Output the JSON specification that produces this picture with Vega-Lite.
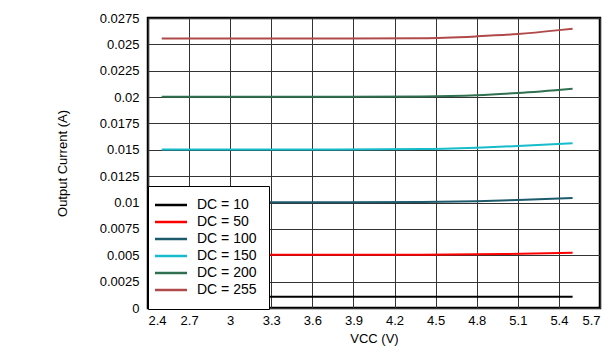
{
  "$schema": "https://vega.github.io/schema/vega-lite/v6.json",
  "width": 452,
  "height": 290,
  "autosize": {"type": "none"},
  "padding": {"left": 148, "top": 18, "right": 12, "bottom": 44},
  "background": "white",
  "config": {
    "font": "Liberation Sans",
    "view": {"stroke": "black", "strokeWidth": 2.5},
    "axis": {
      "labelFont": "Liberation Sans",
      "titleFont": "Liberation Sans",
      "labelFontSize": 13,
      "titleFontSize": 13,
      "titleFontWeight": "normal",
      "labelColor": "black",
      "titleColor": "black",
      "gridColor": "#333333",
      "gridOpacity": 1,
      "gridWidth": 1,
      "domain": false,
      "ticks": false
    }
  },
  "data": {
    "values": [
      {"v": 2.5, "i": 0.00107, "dc": "DC = 10"},
      {"v": 3.5, "i": 0.00107, "dc": "DC = 10"},
      {"v": 4.5, "i": 0.00107, "dc": "DC = 10"},
      {"v": 5.5, "i": 0.00107, "dc": "DC = 10"},
      {"v": 2.5, "i": 0.00505, "dc": "DC = 50"},
      {"v": 3.5, "i": 0.00505, "dc": "DC = 50"},
      {"v": 4.4, "i": 0.00506, "dc": "DC = 50"},
      {"v": 5.0, "i": 0.00512, "dc": "DC = 50"},
      {"v": 5.5, "i": 0.00524, "dc": "DC = 50"},
      {"v": 2.5, "i": 0.01003, "dc": "DC = 100"},
      {"v": 3.5, "i": 0.01003, "dc": "DC = 100"},
      {"v": 4.4, "i": 0.01006, "dc": "DC = 100"},
      {"v": 4.8, "i": 0.01013, "dc": "DC = 100"},
      {"v": 5.1, "i": 0.01024, "dc": "DC = 100"},
      {"v": 5.5, "i": 0.01043, "dc": "DC = 100"},
      {"v": 2.5, "i": 0.01503, "dc": "DC = 150"},
      {"v": 3.5, "i": 0.01503, "dc": "DC = 150"},
      {"v": 4.4, "i": 0.01507, "dc": "DC = 150"},
      {"v": 4.8, "i": 0.0152, "dc": "DC = 150"},
      {"v": 5.1, "i": 0.01536, "dc": "DC = 150"},
      {"v": 5.5, "i": 0.01562, "dc": "DC = 150"},
      {"v": 2.5, "i": 0.02003, "dc": "DC = 200"},
      {"v": 3.5, "i": 0.02003, "dc": "DC = 200"},
      {"v": 4.4, "i": 0.02006, "dc": "DC = 200"},
      {"v": 4.8, "i": 0.02017, "dc": "DC = 200"},
      {"v": 5.1, "i": 0.02039, "dc": "DC = 200"},
      {"v": 5.5, "i": 0.0208, "dc": "DC = 200"},
      {"v": 2.5, "i": 0.02556, "dc": "DC = 255"},
      {"v": 3.5, "i": 0.02556, "dc": "DC = 255"},
      {"v": 4.4, "i": 0.02559, "dc": "DC = 255"},
      {"v": 4.8, "i": 0.02576, "dc": "DC = 255"},
      {"v": 5.1, "i": 0.02598, "dc": "DC = 255"},
      {"v": 5.4, "i": 0.02635, "dc": "DC = 255"},
      {"v": 5.5, "i": 0.02649, "dc": "DC = 255"}
    ]
  },
  "mark": {"type": "line", "strokeWidth": 2, "interpolate": "monotone"},
  "encoding": {
    "x": {
      "field": "v",
      "type": "quantitative",
      "scale": {"domain": [2.4, 5.7], "nice": false, "zero": false},
      "axis": {
        "values": [2.4, 2.7, 3, 3.3, 3.6, 3.9, 4.2, 4.5, 4.8, 5.1, 5.4, 5.7],
        "format": ".1~f",
        "labelPadding": 6,
        "title": "VCC (V)",
        "titlePadding": 5
      }
    },
    "y": {
      "field": "i",
      "type": "quantitative",
      "scale": {"domain": [0, 0.0275], "nice": false},
      "axis": {
        "values": [0, 0.0025, 0.005, 0.0075, 0.01, 0.0125, 0.015, 0.0175, 0.02, 0.0225, 0.025, 0.0275],
        "format": ".4~f",
        "labelPadding": 9,
        "title": "Output Current (A)",
        "titlePadding": 30
      }
    },
    "color": {
      "field": "dc",
      "type": "nominal",
      "sort": ["DC = 10", "DC = 50", "DC = 100", "DC = 150", "DC = 200", "DC = 255"],
      "scale": {
        "domain": ["DC = 10", "DC = 50", "DC = 100", "DC = 150", "DC = 200", "DC = 255"],
        "range": ["#000000", "#ff0000", "#1d5a6c", "#17bccb", "#2e7050", "#b04a4a"]
      },
      "legend": {
        "title": null,
        "orient": "none",
        "legendX": 0,
        "legendY": 168,
        "fillColor": "white",
        "strokeColor": "black",
        "padding": 12,
        "symbolType": "M-4,0H4",
        "symbolSize": 64,
        "symbolStrokeWidth": 2.5,
        "labelFont": "Liberation Sans",
        "labelFontSize": 14,
        "labelColor": "black",
        "rowPadding": 3,
        "labelOffset": 19,
        "symbolOffset": 4
      }
    }
  }
}
